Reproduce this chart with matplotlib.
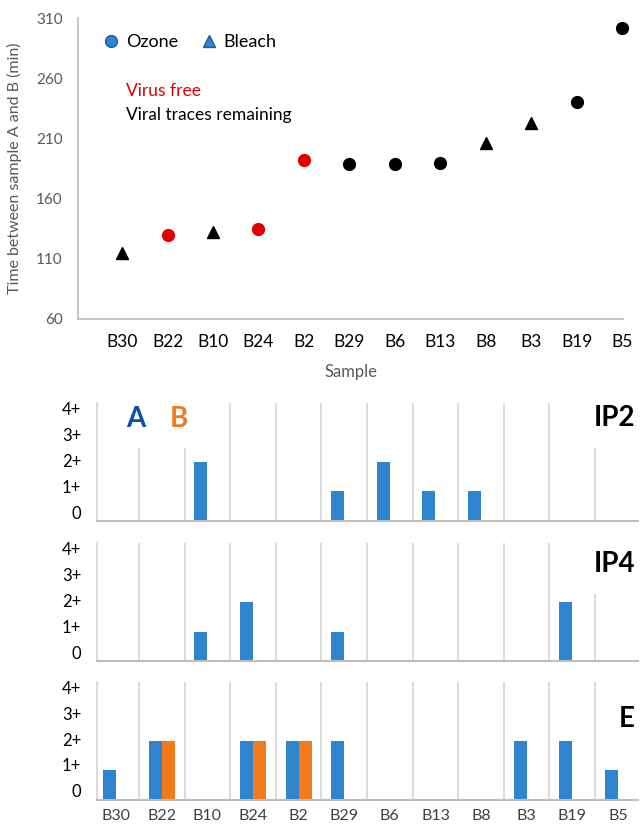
import numpy as np
import matplotlib
matplotlib.use('Agg')
import matplotlib.pyplot as plt
from matplotlib.lines import Line2D

plt.rcParams['font.family'] = ['Lato', 'DejaVu Sans']

samples = ['B30', 'B22', 'B10', 'B24', 'B2', 'B29', 'B6', 'B13', 'B8', 'B3', 'B19', 'B5']
time_min = [115, 130, 132, 134.5, 192, 189, 189, 189.5, 206.5, 223, 240, 302]
treatment = ['Bleach', 'Ozone', 'Bleach', 'Ozone', 'Ozone', 'Ozone',
             'Ozone', 'Ozone', 'Bleach', 'Bleach', 'Ozone', 'Ozone']
virus_free = [False, True, False, True, True, False,
              False, False, False, False, False, False]

panels = ['IP2', 'IP4', 'E']
ip2_a = [0, 0, 2, 0, 0, 1, 2, 1, 1, 0, 0, 0]
ip2_b = [0, 0, 0, 0, 0, 0, 0, 0, 0, 0, 0, 0]
ip4_a = [0, 0, 1, 2, 0, 1, 0, 0, 0, 0, 2, 0]
ip4_b = [0, 0, 0, 0, 0, 0, 0, 0, 0, 0, 0, 0]
e_a = [1, 2, 0, 2, 2, 2, 0, 0, 0, 2, 2, 1]
e_b = [0, 2, 0, 2, 2, 0, 0, 0, 0, 0, 0, 0]
score_labels = ['0', '1+', '2+', '3+', '4+']

blue = '#2F84D0'
orange = '#F27A1A'
grey_txt = '#595959'
grid_c = '#D9D9D9'

fig = plt.figure(figsize=(6.4, 8.3), dpi=100)

# --- top scatter chart ---
ax = fig.add_axes([0.1219, 0.6157, 0.8516, 0.3626])
x = np.arange(len(samples))
for xi, yi, tr, vf in zip(x, time_min, treatment, virus_free):
    mk = 'o' if tr == 'Ozone' else '^'
    c = '#E00000' if vf else 'black'
    ax.plot(xi, yi, marker=mk, color=c, markersize=8.5 if mk == 'o' else 8,
            linestyle='none', clip_on=False, zorder=3)
ax.set_xlim(-0.97, 11.02)
ax.set_ylim(60, 310)
ax.set_yticks([60, 110, 160, 210, 260, 310])
ax.set_xticks(x)
ax.set_xticklabels(samples, fontsize=12.5, color='black')
ax.tick_params(axis='y', labelsize=11, colors=grey_txt, length=0, pad=11)
ax.tick_params(axis='x', length=0, pad=11)
for s in ['top', 'right']:
    ax.spines[s].set_visible(False)
for s in ['left', 'bottom']:
    ax.spines[s].set_color('#BFBFBF')
    ax.spines[s].set_linewidth(1.3)
ax.set_ylabel('Time between sample A and B (min)', fontsize=11.5, color=grey_txt, labelpad=10)
ax.set_xlabel('Sample', fontsize=12, color=grey_txt, labelpad=10)

handles = [Line2D([], [], marker='o', color=blue, markeredgecolor='#1F5A96',
                  linestyle='none', markersize=8.5, label='Ozone'),
           Line2D([], [], marker='^', color=blue, markeredgecolor='#1F5A96',
                  linestyle='none', markersize=8.5, label='Bleach')]
ax.legend(handles=handles, loc='upper left', bbox_to_anchor=(0.015, 1.0), ncol=2,
          frameon=False, fontsize=13, handlelength=1.0, handletextpad=0.3,
          columnspacing=1.2)
ax.text(0.088, 0.757, 'Virus free', color='#E00000', fontsize=12.5,
        transform=ax.transAxes, va='center')
ax.text(0.088, 0.678, 'Viral traces remaining', color='black', fontsize=12.5,
        transform=ax.transAxes, va='center')

# --- bar panels ---
panel_data = {'IP2': (ip2_a, ip2_b), 'IP4': (ip4_a, ip4_b), 'E': (e_a, e_b)}
bottoms = [0.3723, 0.2036, 0.0367]
label_pos = {'IP2': 0.983, 'IP4': 0.932, 'E': 0.79}
w = 0.285
for name, bot in zip(panels, bottoms):
    a_vals, b_vals = panel_data[name]
    bx = fig.add_axes([0.151, bot, 0.8465, 0.1422])
    bx.bar(x - w / 2, a_vals, width=w, color=blue, zorder=2)
    bx.bar(x + w / 2, b_vals, width=w, color=orange, zorder=2)
    for b in np.arange(len(samples) - 1) + 0.5:
        bx.axvline(b, color=grid_c, lw=1.3, zorder=1)
    bx.set_xlim(-0.43, 11.45)
    bx.set_ylim(0, 4)
    bx.set_yticks([0.3, 1.18, 2.05, 2.92, 3.8])
    bx.set_yticklabels(score_labels, fontsize=12)
    bx.tick_params(axis='y', length=0, pad=11)
    bx.tick_params(axis='x', length=0, pad=7)
    if name == 'E':
        bx.set_xticks(x)
        bx.set_xticklabels(samples, fontsize=11.5, color='#404040')
    else:
        bx.set_xticks([])
    for s in ['top', 'right']:
        bx.spines[s].set_visible(False)
    bx.spines['left'].set_color(grid_c)
    bx.spines['left'].set_linewidth(1.3)
    bx.spines['bottom'].set_color('#BFBFBF')
    bx.spines['bottom'].set_linewidth(1.5)
    bx.text(0.994, label_pos[name], name, transform=bx.transAxes, ha='right', va='top',
            fontsize=20, fontweight='bold', color='black', zorder=4, clip_on=True,
            bbox=dict(boxstyle='square,pad=0.6', fc='white', ec='none'))
    if name == 'IP2':
        bx.text(0.0727, 0.86, 'A', transform=bx.transAxes, ha='center', va='center',
                fontsize=20, fontweight='bold', color='#0B50A8', zorder=4, clip_on=True,
                bbox=dict(boxstyle='square,pad=0.55', fc='white', ec='none'))
        bx.text(0.151, 0.86, 'B', transform=bx.transAxes, ha='center', va='center',
                fontsize=20, fontweight='bold', color=orange, zorder=4, clip_on=True,
                bbox=dict(boxstyle='square,pad=0.55', fc='white', ec='none'))

fig.savefig('out.png', dpi=100)
